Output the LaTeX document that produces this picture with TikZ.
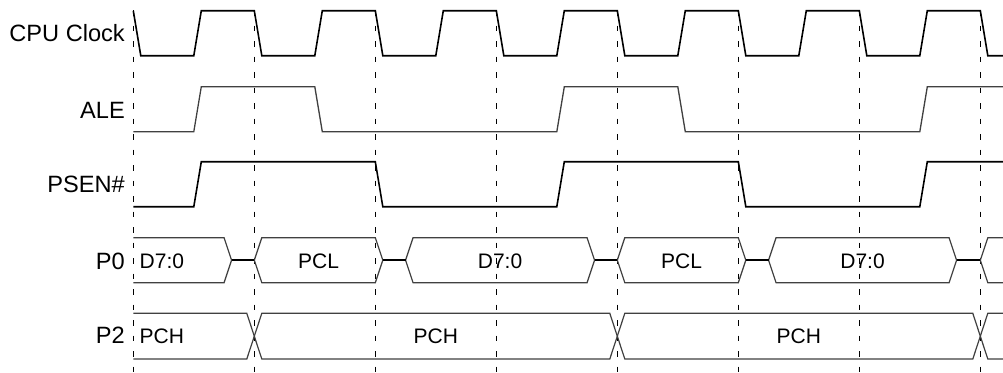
\documentclass[tikz,border=0pt]{standalone}
\usepackage{fontspec}
\setmainfont{Liberation Sans}
\begin{document}
\begin{tikzpicture}[x=1pt,y=-1pt,
  sig/.style={line width=1.6pt,black,line join=miter},
  sigale/.style={line width=1.3pt,black!75,line join=miter},
  bus/.style={line width=1.2pt,black!75,line join=miter},
  hiz/.style={line width=1.8pt,black},
  grid/.style={line width=1pt,black,dash pattern=on 5.5pt off 10pt},
  lab/.style={anchor=base east,inner sep=0pt,font=\fontsize{23.6}{23.6}\selectfont},
  val/.style={anchor=base,inner sep=0pt,font=\fontsize{21}{21}\selectfont},
  valw/.style={anchor=base west,inner sep=0pt,font=\fontsize{21}{21}\selectfont}]
\useasboundingbox (0,0) rectangle (1003,372);
\fill[white] (0,0) rectangle (1003,372);

% dashed time grid
\foreach \k in {0,...,7}
  \draw[grid] ({133.3+121*\k},10) -- ({133.3+121*\k},372);

% labels
\node[lab] (lclk) at (125,41.7) {CPU Clock};
\node[lab] (lale) at (125,118.3) {ALE};
\node[lab] (lpsen) at (125,192.7) {PSEN\#};
\node[lab] (lp0) at (125,269) {P0};
\node[lab] (lp2) at (125,343.5) {P2};

% CPU clock
\draw[sig] (133.3,10.7)
  \foreach \k in {0,...,6} {
    -- ({140.8+121*\k},55.7) -- ({193.8+121*\k},55.7)
    -- ({201.3+121*\k},10.7) -- ({254.3+121*\k},10.7)
  } -- (987.8,55.7) -- (1003,55.7);

% ALE
\draw[sigale] (133.3,131.7) -- (193.8,131.7) -- (201.3,86.7) -- (314.8,86.7)
  -- (322.3,131.7) -- (556.8,131.7) -- (564.3,86.7) -- (677.8,86.7)
  -- (685.3,131.7) -- (919.8,131.7) -- (927.3,86.7) -- (1003,86.7);

% PSEN#
\draw[sig] (133.3,206.7) -- (193.8,206.7) -- (201.3,161.7) -- (375.3,161.7)
  -- (382.8,206.7) -- (556.8,206.7) -- (564.3,161.7) -- (738.3,161.7)
  -- (745.8,206.7) -- (919.8,206.7) -- (927.3,161.7) -- (1003,161.7);

% P0 bus
\draw[bus] (133.3,237.7) -- (224.05,237.7) -- (231.55,260.2) -- (224.05,282.7) -- (133.3,282.7);
\draw[bus] (254.3,260.2) -- (261.8,237.7) -- (375.3,237.7) -- (382.8,260.2) -- (375.3,282.7) -- (261.8,282.7) -- cycle;
\draw[bus] (405.55,260.2) -- (413.05,237.7) -- (587.05,237.7) -- (594.55,260.2) -- (587.05,282.7) -- (413.05,282.7) -- cycle;
\draw[bus] (617.3,260.2) -- (624.8,237.7) -- (738.3,237.7) -- (745.8,260.2) -- (738.3,282.7) -- (624.8,282.7) -- cycle;
\draw[bus] (768.55,260.2) -- (776.05,237.7) -- (949.05,237.7) -- (956.55,260.2) -- (949.05,282.7) -- (776.05,282.7) -- cycle;
\draw[bus] (1003,237.7) -- (987.8,237.7) -- (980.3,260.2) -- (987.8,282.7) -- (1003,282.7);
\draw[hiz] (231.55,260.2) -- (254.3,260.2);
\draw[hiz] (382.8,260.2) -- (405.55,260.2);
\draw[hiz] (594.55,260.2) -- (617.3,260.2);
\draw[hiz] (745.8,260.2) -- (768.55,260.2);
\draw[hiz] (956.55,260.2) -- (980.3,260.2);
\node[valw] (d1) at (139.5,268.3) {D7:0};
\node[val] (c1) at (318.55,268.3) {PCL};
\node[val] (d2) at (500.05,268.3) {D7:0};
\node[val] (c2) at (681.55,268.3) {PCL};
\node[val] (d3) at (862.55,268.3) {D7:0};

% P2 bus
\draw[bus] (133.3,313.3) -- (246.8,313.3) -- (254.3,336.2) -- (246.8,359) -- (133.3,359);
\draw[bus] (254.3,336.2) -- (261.8,313.3) -- (609.8,313.3) -- (617.3,336.2) -- (609.8,359) -- (261.8,359) -- cycle;
\draw[bus] (617.3,336.2) -- (624.8,313.3) -- (972.8,313.3) -- (980.3,336.2) -- (972.8,359) -- (624.8,359) -- cycle;
\draw[bus] (1003,313.3) -- (987.8,313.3) -- (980.3,336.2) -- (987.8,359) -- (1003,359);
\node[valw] (h1) at (139.5,343.3) {PCH};
\node[val] (h2) at (435.8,343.3) {PCH};
\node[val] (h3) at (798.8,343.3) {PCH};
\end{tikzpicture}
\end{document}
